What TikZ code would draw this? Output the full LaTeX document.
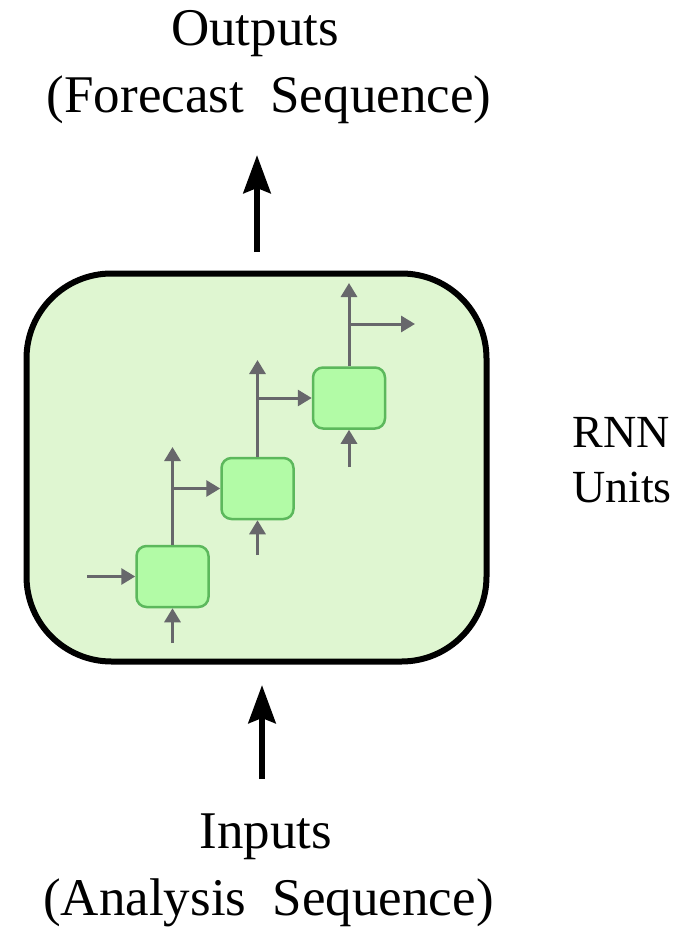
\documentclass[tikz,border=0pt]{standalone}
\usepackage{fontspec}
\setmainfont{Liberation Serif}
\usetikzlibrary{arrows.meta}

\definecolor{panelfill}{HTML}{DFF6D1}
\definecolor{cellfill}{HTML}{B2FBA6}
\definecolor{celledge}{HTML}{5CB85C}
\definecolor{flowgray}{HTML}{67676B}

\tikzset{
  panel/.style={draw=black, line width=6pt, fill=panelfill, rounded corners=85pt,
    minimum width=460pt, minimum height=388pt, inner sep=0pt},
  cell/.style={draw=celledge, line width=2.5pt, fill=cellfill, rounded corners=10pt,
    minimum width=72pt, minimum height=61pt, inner sep=0pt},
  flow/.style={draw=flowgray, line width=3pt, -{Triangle[length=14pt, width=16pt]}},
  bigflow/.style={draw=black, line width=6.5pt, -{Stealth[length=38pt, width=27pt, inset=5pt]}},
  label/.style={anchor=base, inner sep=0pt, font=\fontsize{53}{60}\selectfont},
  sidelabel/.style={anchor=base, inner sep=0pt, font=\fontsize{46}{52}\selectfont},
}

\begin{document}
\begin{tikzpicture}[x=1pt, y=-1pt]
  \useasboundingbox (0,0) rectangle (700,928);

  % outer container of the recurrent units
  \node[panel] (rnn) at (256.5,467.5) {};

  % three recurrent cells, stepping up to the right
  \node[cell] (c1) at (172.5,576.5) {};
  \node[cell] (c2) at (257.5,488.5) {};
  \node[cell] (c3) at (349,398) {};

  % free ends of the cell connectors
  \coordinate (h0) at (87,576.5);
  \coordinate (x1) at (172.5,643);
  \coordinate (y1) at (172.5,447);
  \coordinate (b1) at (172.5,488.5);
  \coordinate (x2) at (257.5,555);
  \coordinate (y2) at (257.5,360);
  \coordinate (b2) at (257.5,398);
  \coordinate (x3) at (349,467);
  \coordinate (y3) at (349,283);
  \coordinate (b3) at (349,324);
  \coordinate (h3) at (415,324);

  % cell connectors
  \draw[flow] (h0) -- (c1.west);
  \draw[flow] (x1) -- (c1.south);
  \draw[flow] (c1.north) -- (y1);
  \draw[flow] (b1) -- (c2.west);
  \draw[flow] (x2) -- (c2.south);
  \draw[flow] (c2.north) -- (y2);
  \draw[flow] (b2) -- (c3.west);
  \draw[flow] (x3) -- (c3.south);
  \draw[flow] (c3.north) -- (y3);
  \draw[flow] (b3) -- (h3);

  % main input and output arrows
  \coordinate (outtail) at (257,252);
  \coordinate (outtip) at (257,155);
  \coordinate (intail) at (262,779);
  \coordinate (intip) at (262,685);
  \draw[bigflow] (outtail) -- (outtip);
  \draw[bigflow] (intail) -- (intip);

  % labels
  \node[label] (out1) at (255,46) {Outputs};
  \node[label] (out2) at (269,113) {(Forecast\ \ Sequence)};
  \node[label] (in1) at (266,848) {Inputs};
  \node[label] (in2) at (268.5,915) {(Analysis\ \ Sequence)};
  \node[sidelabel] (side1) at (621,447) {RNN};
  \node[sidelabel] (side2) at (622,502) {Units};
\end{tikzpicture}
\end{document}
